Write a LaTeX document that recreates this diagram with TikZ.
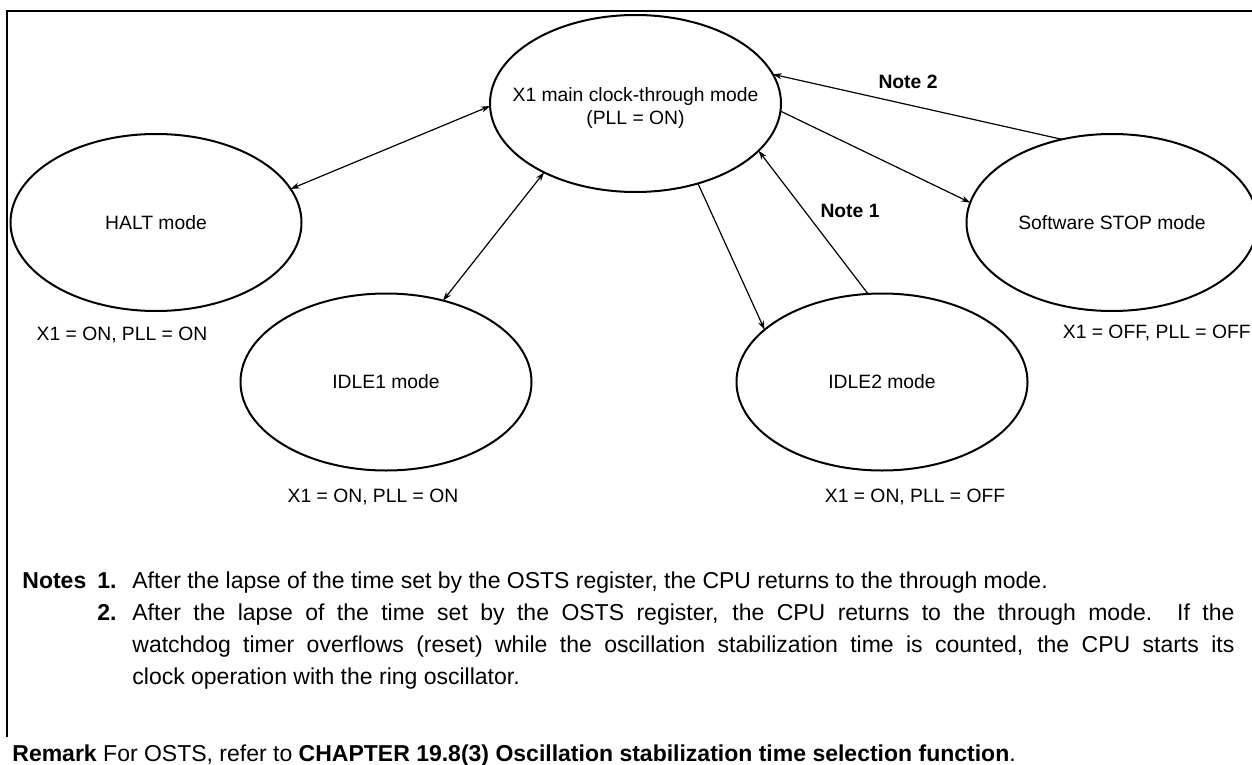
\documentclass[tikz,border=0pt]{standalone}
\usepackage{fontspec}
\setmainfont{Liberation Sans}
\usetikzlibrary{arrows.meta,shapes.geometric}
\tikzset{
  mode/.style={draw,ellipse,line width=1pt,minimum width=145.5pt,minimum height=88.5pt,inner sep=0pt,outer sep=0pt},
  link/.style={line width=.6pt},
  txt/.style={inner sep=0pt,anchor=base west,font=\fontsize{11.5}{16}\selectfont}
}

\begin{document}
\begin{tikzpicture}[x=.5pt,y=-.5pt,font=\fontsize{9.65}{11.5}\selectfont,>={Stealth[length=4.5pt,width=3pt]}]
\useasboundingbox (0,0) rectangle (1252,765);
\draw[line width=1pt] (7,737) -- (7,11) -- (1252,11);
% the five modes
\node[mode,label={[align=center,yshift=-2.5pt]center:X1 main clock-through mode\\(PLL = ON)}] (main) at (635.5,103.5) {};
\node[mode] (halt) at (156,222.5) {HALT mode};
\node[mode] (idle1) at (386,382) {IDLE1 mode};
\node[mode] (idle2) at (882,382) {IDLE2 mode};
\node[mode] (stop) at (1112,222.5) {Software STOP mode};
% clock states under the modes
\node (haltinfo) at (122,335) {X1 = ON, PLL = ON};
\node (idle1info) at (373,497) {X1 = ON, PLL = ON};
\node (idle2info) at (915,497) {X1 = ON, PLL = OFF};
\node[anchor=east,inner xsep=0pt] (stopinfo) at (1251,333) {X1 = OFF, PLL = OFF};
% transitions
\draw[link,<->] (main.181) -- (halt.14);
\draw[link,<->] (main.217) -- (idle1.55);
\draw[link,->] (main.308) -- (idle2.156);
\draw[link,->] (idle2.99) -- (main.339);
\draw[link,->] (main.357) -- (stop.172);
\draw[link,->] (stop.121) -- (main.12);
\node (note1) at (850,211) {\textbf{Note 1}};
\node (note2) at (908,82) {\textbf{Note 2}};
% notes and remark
\node[txt] (notes) at (22,588) {\textbf{Notes}};
\node[txt] (num1) at (97,588) {\textbf{1.}};
\node[txt] (text1) at (132,588) {After the lapse of the time set by the OSTS register, the CPU returns to the through mode.};
\node[txt] (num2) at (97,620) {\textbf{2.}};
\node[txt,anchor=north west,text width=551pt,align=justify] (text2) at (132,603)
  {After the lapse of the time set by the OSTS register, the CPU returns to the through mode.\ \ If the\linebreak
   watchdog timer overflows (reset) while the oscillation stabilization time is counted, the CPU starts its\linebreak
   clock operation with the ring oscillator.};
\node[txt] (remark) at (12,761) {\textbf{Remark} For OSTS, refer to \textbf{CHAPTER 19.8(3) Oscillation stabilization time selection function}.};
\end{tikzpicture}
\end{document}
